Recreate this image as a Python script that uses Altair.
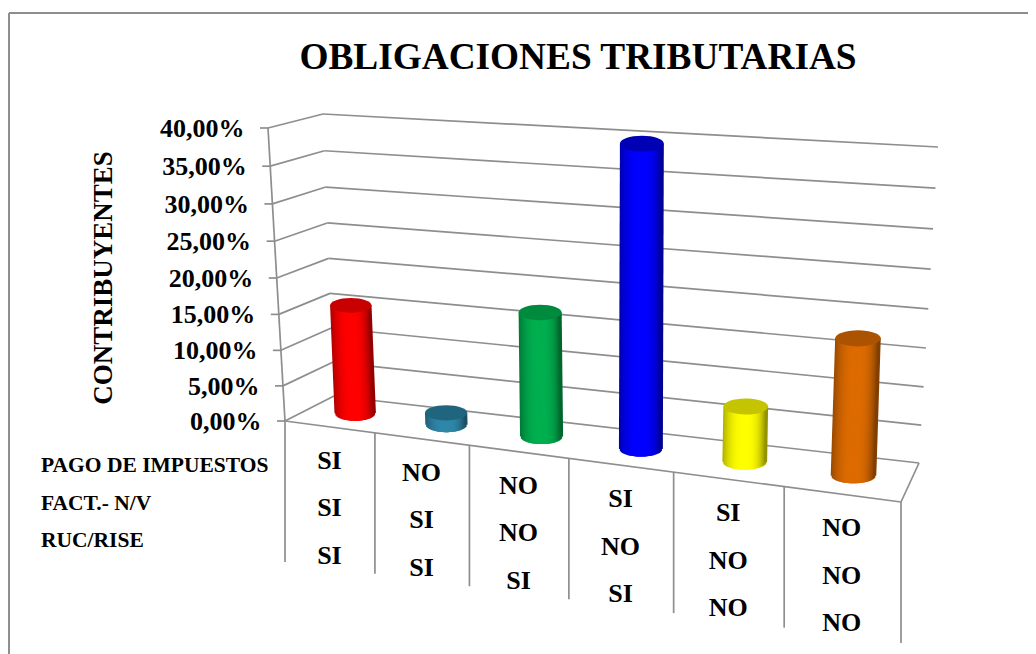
import altair as alt
import pandas as pd
import numpy as np

# ---- chart values ----
categories = ["SI/SI/SI", "NO/SI/SI", "NO/NO/SI", "SI/NO/SI", "SI/NO/NO", "NO/NO/NO"]
row_1 = ["SI", "NO", "NO", "SI", "SI", "NO"]
row_2 = ["SI", "SI", "NO", "NO", "NO", "NO"]
row_3 = ["SI", "SI", "SI", "SI", "NO", "NO"]
values = [15.35, 1.68, 16.96, 39.8, 7.38, 17.67]
ticks = [0, 5, 10, 15, 20, 25, 30, 35, 40]
tick_labels = ["0,00%", "5,00%", "10,00%", "15,00%", "20,00%", "25,00%", "30,00%", "35,00%", "40,00%"]
base_colors = ["#ff0000", "#2f88aa", "#00b050", "#0000ff", "#ffff00", "#de6c00"]
top_colors = ["#c80000", "#21647e", "#008a3e", "#0000b4", "#c4c400", "#ab5300"]
row_names = ["PAGO DE IMPUESTOS", "FACT.- N/V", "RUC/RISE"]
title = "OBLIGACIONES TRIBUTARIAS"
y_title = "CONTRIBUYENTES"

W, H = 1020, 646
GRID = "#8e8e8e"

# ---- 3D projection of the box (category position, depth, value) ----
FL0, FL40 = np.array([285.0, 421.0]), np.array([268.0, 128.0])
FR0, FR40 = np.array([901.0, 502.0]), np.array([908.0, 172.0])
BL0, BL40 = np.array([334.0, 396.0]), np.array([323.0, 114.0])
BR0, BR40 = np.array([919.0, 463.0]), np.array([938.0, 147.0])
K_FRONT = 1.17
K_BACK = 1.107
KH = 1.049


def warp(u, k):
    return u / (k - (k - 1) * u)


def warp_h(h):
    x = h / 40.0
    return x / (KH - (KH - 1) * x)


def P(u, v, h):
    wf = warp(u, K_FRONT)
    wb = warp(u, K_BACK)
    front0 = FL0 + (FR0 - FL0) * wf
    back0 = BL0 + (BR0 - BL0) * wb
    front40 = FL40 + (FR40 - FL40) * wf
    back40 = BL40 + (BR40 - BL40) * wb
    p0 = front0 + (back0 - front0) * v
    p40 = front40 + (back40 - front40) * v
    return p0 + (p40 - p0) * warp_h(h)


segs = []


def seg(a, b, width=1.7, color=GRID):
    segs.append(dict(x=a[0], y=a[1], x2=b[0], y2=b[1], w=width, c=color))


# outer frame
seg((9, 13), (1036, 13), 2)
seg((9, 13), (9, 654), 2)

# walls and grid
for h in ticks:
    seg(P(0, 0, h), P(0, 1, h))
    seg(P(0, 1, h), P(1, 1, h))
    seg(P(0, 0, h) - np.array([8, 0]), P(0, 0, h))
seg(P(0, 0, 0), P(0, 0, 40))
seg(P(0, 0, 0), P(1, 0, 0))
seg(P(1, 0, 0), P(1, 1, 0))
for k in range(7):
    a = P(k / 6, 0, 0)
    seg(a, a + np.array([0, 141]))
lines = pd.DataFrame(segs)

# cylinders
strips, caps = [], []
N = 44
RY = 7.5
SW = 3.0
for i, (val, base, top) in enumerate(zip(values, base_colors, top_colors)):
    u = (i + 0.5) / 6
    v = 0.53 - 0.04 * u
    bot = P(u, v, 0)
    tp = P(u, v, val)
    rx = 20.5 + 2.5 * u
    rgb = np.array([int(base[j:j + 2], 16) for j in (1, 3, 5)], dtype=float)
    for t in np.linspace(-1, 1, N):
        f = 1 - (0.30 * abs(t) ** 2.5 if t < 0 else 0.42 * t ** 3)
        col = "#%02x%02x%02x" % tuple(int(c) for c in rgb * f)
        arc = RY * np.sqrt(max(0, 1 - t * t))
        off = t * (rx - SW / 2)
        strips.append(dict(x=tp[0] + off, y=tp[1], x2=bot[0] + off, y2=bot[1] + arc, c=col))
    caps.append(dict(x=tp[0], y=tp[1], s=(2 * rx) ** 2, c=top))
strips = pd.DataFrame(strips)
caps = pd.DataFrame(caps)

sx = alt.Scale(domain=[8, 8 + W], range=[0, W], nice=False, zero=False)
sy = alt.Scale(domain=[8, 8 + H], range=[0, H], nice=False, zero=False)
X = alt.X("x:Q", scale=sx, axis=None)
Y = alt.Y("y:Q", scale=sy, axis=None)

rule_layer = alt.Chart(lines).mark_rule().encode(
    x=X, y=Y, x2="x2:Q", y2="y2:Q",
    color=alt.Color("c:N", scale=None),
    strokeWidth=alt.StrokeWidth("w:Q", scale=None),
)
strip_layer = alt.Chart(strips).mark_rule(strokeWidth=SW).encode(
    x=X, y=Y, x2="x2:Q", y2="y2:Q",
    color=alt.Color("c:N", scale=None),
)
ratio = RY / 21.0
path = f"M -1 0 A 1 {ratio:.3f} 0 1 1 1 0 A 1 {ratio:.3f} 0 1 1 -1 0 Z"
cap_layer = alt.Chart(caps).mark_point(shape=path, filled=True, opacity=1, strokeWidth=0).encode(
    x=X, y=Y,
    size=alt.Size("s:Q", scale=None),
    color=alt.Color("c:N", scale=None),
)


def text_layer(df, size, align="center", angle=0):
    kw = dict(font="Liberation Serif", fontWeight="bold", fontSize=size, align=align,
              baseline="middle", color="black")
    if angle:
        kw["angle"] = angle
    return alt.Chart(df).mark_text(**kw).encode(x=X, y=Y, text="s:N")


title_df = pd.DataFrame([dict(x=578, y=58, s=title)])
ytitle_df = pd.DataFrame([dict(x=104, y=278, s=y_title)])
tick_df = pd.DataFrame([
    dict(x=P(0, 0, h)[0] - 23.5, y=P(0, 0, h)[1] + 1, s=lab) for h, lab in zip(ticks, tick_labels)
])
rown_df = pd.DataFrame([dict(x=41, y=466 + 37.5 * i, s=n) for i, n in enumerate(row_names)])
cat_rows = []
for i in range(len(categories)):
    a = P((i + 0.5) / 6, 0, 0)
    for r, row in enumerate((row_1, row_2, row_3)):
        cat_rows.append(dict(x=a[0], y=a[1] + 34 + 47.5 * r, s=row[i]))
cat_df = pd.DataFrame(cat_rows)

chart = alt.layer(
    rule_layer,
    strip_layer,
    cap_layer,
    text_layer(title_df, 37.3),
    text_layer(ytitle_df, 27, angle=270),
    text_layer(tick_df, 26, align="right"),
    text_layer(rown_df, 21.5, align="left"),
    text_layer(cat_df, 26),
).properties(width=W, height=H, padding=0, autosize=alt.AutoSizeParams(type="none")).configure_view(stroke=None)

chart.save("out.html", embed_options={"renderer": "svg", "actions": False})
